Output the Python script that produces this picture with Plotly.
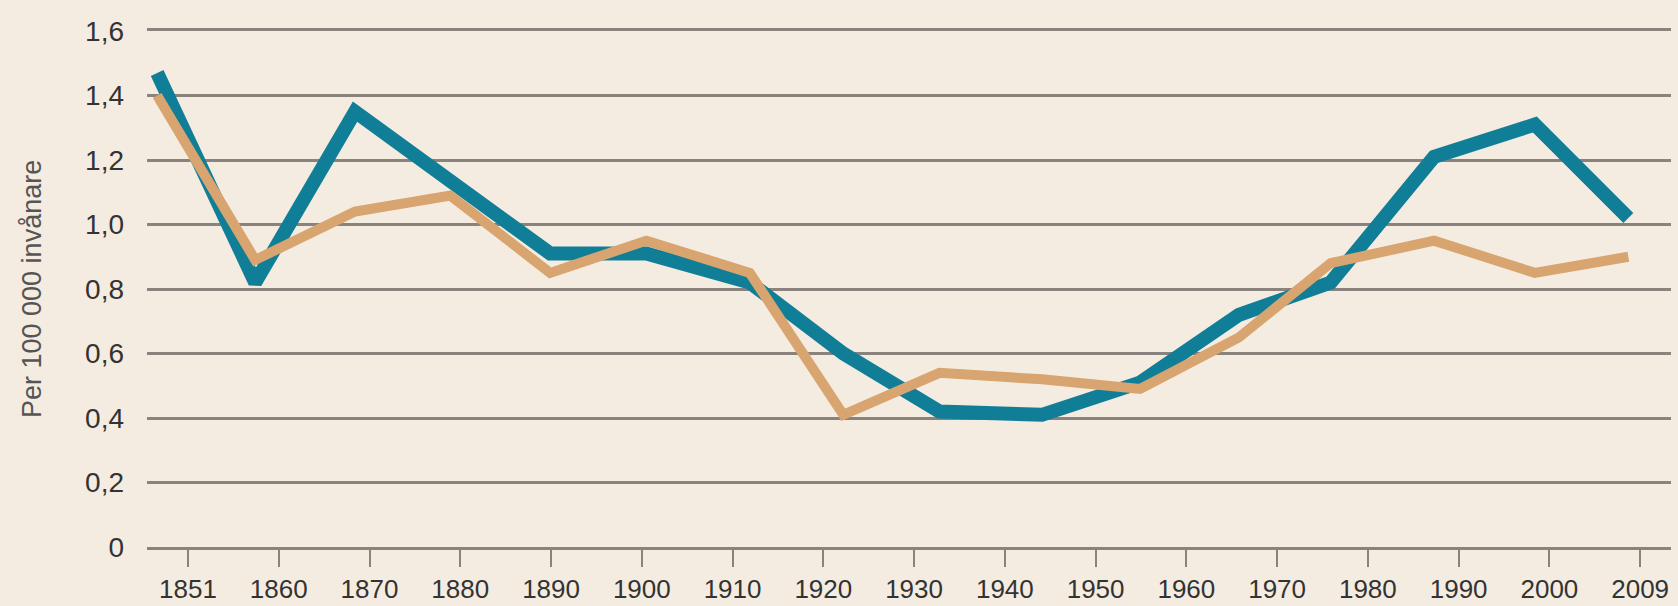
import plotly.graph_objects as go

# Tick labels on the (evenly spaced) x axis
tick_labels = ["1851", "1860", "1870", "1880", "1890", "1900", "1910", "1920", "1930",
               "1940", "1950", "1960", "1970", "1980", "1990", "2000", "2009"]
tick_pos = list(range(len(tick_labels)))

# Data point positions (in tick-index units)
point_pos = [-0.34, 0.74, 1.84, 2.89, 3.99, 5.05, 6.19, 7.22, 8.28, 9.41, 10.49, 11.58,
             12.59, 13.73, 14.84, 15.87]

# Series values (per 100 000 inhabitants)
teal_values = [1.47, 0.82, 1.35, 1.14, 0.91, 0.91, 0.82, 0.60, 0.42, 0.41, 0.51, 0.72,
               0.82, 1.21, 1.31, 1.02]
tan_values = [1.40, 0.89, 1.04, 1.09, 0.85, 0.95, 0.85, 0.41, 0.54, 0.52, 0.49, 0.65,
              0.88, 0.95, 0.85, 0.90]

y_ticks = [0, 0.2, 0.4, 0.6, 0.8, 1.0, 1.2, 1.4, 1.6]
y_tick_text = ["0", "0,2", "0,4", "0,6", "0,8", "1,0", "1,2", "1,4", "1,6"]

BG = "#f5ece1"
GRID = "#8a827c"
TEAL = "#117e98"
TAN = "#d8a46f"
FONT = "Liberation Sans, Arial, sans-serif"

fig = go.Figure()
fig.add_trace(go.Scatter(x=point_pos, y=teal_values, mode="lines",
                         line=dict(color=TEAL, width=14), hoverinfo="skip"))
fig.add_trace(go.Scatter(x=point_pos, y=tan_values, mode="lines",
                         line=dict(color=TAN, width=10), hoverinfo="skip"))

fig.update_layout(
    width=1678, height=606,
    paper_bgcolor=BG, plot_bgcolor=BG,
    margin=dict(l=147, r=7, t=31, b=59, autoexpand=False),
    showlegend=False,
    font=dict(family=FONT, color="#333333"),
    xaxis=dict(
        range=[-0.452, 16.34],
        tickvals=tick_pos, ticktext=tick_labels,
        showgrid=False, zeroline=False,
        showline=True, linecolor=GRID, linewidth=3, mirror=True,
        ticks="outside", ticklen=17, tickwidth=2, tickcolor=GRID,
        tickfont=dict(size=26, color="#333333", family=FONT),
        automargin=False, fixedrange=True,
    ),
    yaxis=dict(
        range=[0, 1.6],
        tickvals=y_ticks, ticktext=y_tick_text,
        showgrid=True, gridcolor=GRID, gridwidth=3,
        zeroline=False, showline=False,
        ticklabelstandoff=22,
        tickfont=dict(size=28, color="#333333", family=FONT),
        automargin=False, fixedrange=True,
    ),
    annotations=[dict(
        text="Per 100 000 invånare", textangle=-90,
        xref="paper", yref="paper", x=(32 - 147) / 1524, y=0.5,
        xanchor="center", yanchor="middle", showarrow=False,
        font=dict(size=27, color="#555555", family=FONT),
    )],
)

fig.write_html(
    "out.html",
    config={"displayModeBar": False},
    post_script="document.body.style.margin='0';document.body.style.overflow='hidden';"
                "document.body.style.background='" + BG + "';",
)
